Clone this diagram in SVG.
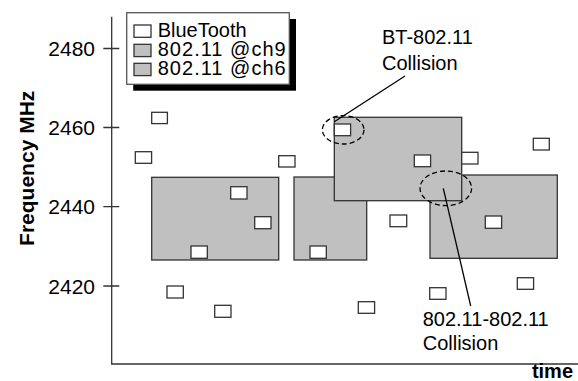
<svg xmlns="http://www.w3.org/2000/svg" width="578" height="381" viewBox="0 0 578 381">
<style>
text{font-family:"Liberation Sans",Arial,sans-serif;fill:#000}
.t{font-size:20px}
.n{font-size:21px;text-anchor:end}
.b{font-weight:bold}
.wifi{fill:#c0c0c0;stroke:#333;stroke-width:1.3}
.bt{fill:#fff;stroke:#333;stroke-width:1.3}
.ax{stroke:#333;stroke-width:1.3;fill:none}
.ell{fill:none;stroke:#000;stroke-width:1.3;stroke-dasharray:5,3}
.lead{stroke:#000;stroke-width:1.3;fill:none}
</style>
<rect width="578" height="381" fill="#fff"/>
<g id="axes">
<path class="ax" d="M111.7,16.7V364H578"/>
<path class="ax" d="M103.3,48.5H119.3M103.3,127.5H119.3M103.3,206.7H119.3M103.3,286H119.3"/>
<text class="n" x="95" y="56">2480</text>
<text class="n" x="95" y="135">2460</text>
<text class="n" x="95" y="214">2440</text>
<text class="n" x="95" y="293.5">2420</text>
<text class="t b" transform="translate(33.5,168.3) rotate(-90)" text-anchor="middle" style="font-size:21px">Frequency MHz</text>
<text class="t b" x="573" y="378.3" text-anchor="end">time</text>
</g>
<g id="wifi-ch6-a"><rect class="wifi" x="151.7" y="177.3" width="127" height="82.7"/></g>
<g id="wifi-ch6-b"><rect class="wifi" x="294" y="177" width="72.7" height="83"/></g>
<g id="wifi-ch6-c"><rect class="wifi" x="430" y="175" width="127.3" height="83.3"/></g>
<g id="wifi-ch9"><rect class="wifi" x="334.3" y="117.3" width="127.4" height="83.4"/></g>
<g id="bluetooth">
<rect class="bt" x="151.7" y="112.3" width="15.7" height="11.3"/>
<rect class="bt" x="135.3" y="151.7" width="16.3" height="11.6"/>
<rect class="bt" x="278.7" y="155.7" width="16.3" height="11.3"/>
<rect class="bt" x="230.7" y="186.7" width="16.3" height="12.3"/>
<rect class="bt" x="254.7" y="216.7" width="16.3" height="12"/>
<rect class="bt" x="191" y="246" width="16.3" height="12.3"/>
<rect class="bt" x="167" y="286" width="16.3" height="12"/>
<rect class="bt" x="214.7" y="305.3" width="16.3" height="12"/>
<rect class="bt" x="334.3" y="124" width="16.3" height="11.7"/>
<rect class="bt" x="414.3" y="155" width="16.3" height="11.7"/>
<rect class="bt" x="461.7" y="152.3" width="16.3" height="11.7"/>
<rect class="bt" x="533.3" y="138.3" width="16" height="11.7"/>
<rect class="bt" x="390" y="215" width="16.7" height="11.7"/>
<rect class="bt" x="310" y="246" width="16.3" height="12.3"/>
<rect class="bt" x="485.3" y="216" width="16.3" height="12.3"/>
<rect class="bt" x="517.3" y="277.7" width="16.3" height="11.6"/>
<rect class="bt" x="429.7" y="287.7" width="16.3" height="11.6"/>
<rect class="bt" x="358.3" y="301.7" width="16.3" height="11.6"/>
</g>
<g id="legend">
<rect x="133.2" y="19" width="162.8" height="71.7" fill="#000"/>
<rect x="126.7" y="12.7" width="162.6" height="71.6" fill="#fff" stroke="#555" stroke-width="1.3"/>
<rect class="bt" x="134" y="25" width="17" height="12.3"/>
<rect class="wifi" x="134" y="44.3" width="17" height="12.3"/>
<rect class="wifi" x="134" y="63.3" width="17" height="12.3"/>
<text class="t" x="157.7" y="36.7">BlueTooth</text>
<text class="t" x="157.7" y="56.2" textLength="128" lengthAdjust="spacing">802.11 @ch9</text>
<text class="t" x="157.7" y="75.2" textLength="128" lengthAdjust="spacing">802.11 @ch6</text>
</g>
<g id="connectors">
<ellipse class="ell" cx="343.2" cy="129.8" rx="20.8" ry="14.2"/>
<ellipse class="ell" cx="445.8" cy="188.3" rx="25.8" ry="17.3"/>
<path class="lead" d="M405,76L334.3,121.7"/>
<path class="lead" d="M443.3,188.3L470.7,306"/>
</g>
<g id="labels">
<text class="t" x="382" y="44">BT-802.11</text>
<text class="t" x="382" y="70">Collision</text>
<text class="t" x="422.7" y="325.7">802.11-802.11</text>
<text class="t" x="422.7" y="350">Collision</text>
</g>
</svg>
